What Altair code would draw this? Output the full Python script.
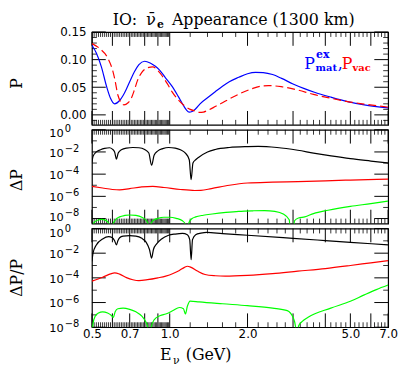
import altair as alt
import pandas as pd

# ---------------- values ----------------
# top panel: appearance probability P (matter, exact) and P (vacuum)
E_mat = [0.500, 0.520, 0.544, 0.570, 0.590, 0.612, 0.640, 0.660, 0.680, 0.700,
         0.730, 0.760, 0.800, 0.840, 0.880, 0.910, 0.960, 1.020, 1.080, 1.130,
         1.160, 1.190, 1.220, 1.260, 1.310, 1.400, 1.500, 1.600, 1.700, 1.850,
         2.000, 2.150, 2.300, 2.500, 2.710, 3.000, 3.300, 3.630, 4.210, 4.880,
         5.660, 7.000]
P_mat = [0.126, 0.112, 0.087, 0.051, 0.030, 0.020, 0.026, 0.035, 0.047, 0.060,
         0.078, 0.091, 0.097, 0.094, 0.088, 0.082, 0.068, 0.052, 0.033, 0.017,
         0.009, 0.005, 0.006, 0.011, 0.020, 0.031, 0.042, 0.052, 0.060, 0.068,
         0.0745, 0.077, 0.0765, 0.073, 0.066, 0.056, 0.048, 0.041, 0.032, 0.024,
         0.018, 0.0127]
E_vac = [0.500, 0.536, 0.577, 0.600, 0.612, 0.630, 0.645, 0.665, 0.690, 0.710,
         0.730, 0.750, 0.780, 0.810, 0.860, 0.900, 0.940, 0.980, 1.020, 1.070,
         1.130, 1.200, 1.260, 1.300, 1.350, 1.400, 1.500, 1.600, 1.750, 1.900,
         2.070, 2.250, 2.410, 2.700, 3.130, 3.600, 4.210, 4.880, 5.660, 7.000]
P_vac = [0.129, 0.120, 0.102, 0.082, 0.066, 0.036, 0.024, 0.018, 0.022, 0.030,
         0.045, 0.062, 0.077, 0.084, 0.087, 0.080, 0.069, 0.056, 0.042, 0.029,
         0.018, 0.010, 0.0066, 0.0045, 0.005, 0.008, 0.015, 0.022, 0.032, 0.040,
         0.047, 0.052, 0.053, 0.051, 0.045, 0.037, 0.030, 0.024, 0.0195, 0.014]

# middle panel: Delta P  (values given as log10)
E_dP_k = [0.500, 0.505, 0.520, 0.540, 0.560, 0.585, 0.600, 0.612, 0.622, 0.632,
          0.650, 0.680, 0.720, 0.760, 0.800, 0.830, 0.851, 0.870, 0.900, 0.940,
          0.990, 1.050, 1.100, 1.150, 1.190, 1.210, 1.230, 1.260, 1.300, 1.400,
          1.500, 1.700, 2.000, 2.200, 2.600, 3.130, 3.600, 4.210, 5.000, 6.000,
          7.000]
lg_dP_k = [-2.95, -2.4, -2.0, -1.8, -1.68, -1.62, -1.75, -2.0, -2.65, -2.1,
           -1.8, -1.65, -1.6, -1.62, -1.78, -2.1, -3.2, -2.3, -1.9, -1.7,
           -1.6, -1.65, -1.8, -2.1, -2.7, -4.5, -3.0, -2.7, -2.45, -2.0,
           -1.78, -1.6, -1.52, -1.5, -1.6, -1.85, -2.1, -2.35, -2.6, -2.82,
           -3.0]
E_dP_r = [0.50, 0.55, 0.60, 0.64, 0.70, 0.78, 0.86, 0.95, 1.10, 1.25,
          1.32, 1.45, 1.70, 2.00, 2.50, 3.13, 4.00, 5.00, 7.00]
lg_dP_r = [-5.1, -5.25, -5.38, -5.42, -5.3, -5.15, -5.1, -5.2, -5.38, -5.47,
           -5.46, -5.3, -5.0, -4.8, -4.72, -4.67, -4.6, -4.53, -4.44]
E_dP_g = [0.500, 0.504, 0.515, 0.530, 0.545, 0.560, 0.575, 0.588, 0.595, 0.602,
          0.615, 0.640, 0.670, 0.700, 0.740, 0.780, 0.810, 0.827, 0.834, 0.842,
          0.860, 0.900, 0.950, 1.000, 1.060, 1.120, 1.155, 1.170, 1.185, 1.220,
          1.260, 1.350, 1.460, 1.650, 1.850, 2.100, 2.330, 2.550, 2.750, 2.900,
          2.970, 3.040, 3.150, 3.330, 3.600, 4.100, 5.000, 6.000, 7.000]
lg_dP_g = [-12, -8.6, -8.25, -8.12, -8.08, -8.12, -8.3, -8.7, -12, -8.6,
           -8.15, -7.85, -7.72, -7.68, -7.72, -7.88, -8.15, -8.6, -12, -8.6,
           -8.2, -7.98, -7.88, -7.88, -7.98, -8.2, -8.6, -12, -8.4, -8.0,
           -7.85, -7.7, -7.59, -7.45, -7.35, -7.3, -7.28, -7.35, -7.6, -8.1,
           -12, -8.2, -7.95, -7.85, -7.55, -7.25, -6.9, -6.65, -6.42]

# bottom panel: Delta P / P-bar  (values given as log10)
E_rel_k = [0.500, 0.505, 0.520, 0.550, 0.580, 0.600, 0.612, 0.622, 0.630, 0.640,
           0.660, 0.700, 0.740, 0.780, 0.810, 0.835, 0.851, 0.865, 0.890, 0.930,
           0.990, 1.050, 1.120, 1.170, 1.195, 1.210, 1.225, 1.260, 1.320, 1.390,
           1.600, 2.000, 3.000, 4.000, 5.000, 7.000]
lg_rel_k = [-2.66, -2.0, -1.33, -0.85, -0.66, -0.75, -1.0, -1.33, -1.0, -0.75,
            -0.62, -0.58, -0.62, -0.8, -1.1, -1.7, -2.4, -1.7, -1.25, -0.85,
            -0.55, -0.45, -0.4, -0.5, -0.9, -2.53, -0.9, -0.5, -0.38, -0.32,
            -0.42, -0.55, -0.8, -0.98, -1.12, -1.33]
E_rel_r = [0.50, 0.55, 0.59, 0.612, 0.64, 0.68, 0.72, 0.76, 0.82, 0.90,
           0.965, 1.03, 1.09, 1.14, 1.17, 1.21, 1.28, 1.37, 1.50, 1.64,
           2.00, 2.50, 3.13, 4.00, 5.00, 6.00, 7.00]
lg_rel_r = [-4.26, -3.95, -3.68, -3.6, -3.7, -3.98, -4.15, -4.22, -4.15, -4.0,
            -3.86, -3.65, -3.4, -3.15, -3.06, -3.15, -3.45, -3.73, -3.83, -3.86,
            -3.8, -3.66, -3.46, -3.25, -3.0, -2.78, -2.6]
E_rel_g = [0.500, 0.504, 0.515, 0.530, 0.550, 0.575, 0.595, 0.605, 0.615, 0.630,
           0.660, 0.700, 0.740, 0.780, 0.805, 0.822, 0.835, 0.848, 0.870, 0.920,
           0.965, 1.030, 1.090, 1.130, 1.150, 1.170, 1.200, 1.300, 1.600, 2.000,
           2.500, 2.850, 3.000, 3.070, 3.110, 3.150, 3.250, 3.430, 4.200, 5.000,
           5.660, 6.300, 7.000]
lg_rel_g = [-12, -7.8, -7.1, -6.85, -6.75, -6.85, -7.05, -7.2, -6.75, -6.5,
            -6.45, -6.55, -6.75, -7.1, -7.5, -8.0, -12, -8.0, -7.4, -7.05,
            -6.93, -6.65, -6.4, -6.5, -6.93, -6.3, -5.88, -5.95, -6.1, -6.25,
            -6.45, -6.65, -7.2, -8.0, -12, -7.9, -7.55, -7.2, -6.45, -5.9,
            -5.38, -4.95, -4.58]

# tick marks / labels
x_major = [0.5, 0.6, 0.7, 0.8, 0.9, 1.0, 2.0, 3.0, 4.0, 5.0, 6.0, 7.0]
x_minor = ([round(0.5 + 0.01 * i, 2) for i in range(1, 50) if i % 10]
           + [1.2, 1.4, 1.6, 1.8]
           + [round(k + 0.2 * j, 1) for k in range(2, 7) for j in range(1, 5)])
x_labelled = [0.5, 0.7, 1.0, 2.0, 5.0, 7.0]
P_major = [0.0, 0.05, 0.10, 0.15]
P_minor = [-0.01] + [round(0.01 * i, 2) for i in range(1, 15) if i % 5]
log_major = [1.0, 1e-2, 1e-4, 1e-6, 1e-8]
log_minor = [1e-1, 1e-3, 1e-5, 1e-7]
log_inner = [1e-2, 1e-4, 1e-6]
sup_text = {0: "0", -2: "\u22122", -4: "\u22124", -6: "\u22126", -8: "\u22128"}

# ---------------- styling ----------------
SANS = "DejaVu Sans"
SERIF = "DejaVu Serif"
W = 300
H_TOP, H_MID, H_BOT = 94, 95, 100
MAJ, MIN = 14, 5
XS = alt.Scale(type="log", domain=[0.5, 7.0], nice=False)

x_expr = ("(" + " || ".join(f"datum.value == {v}" for v in x_labelled)
          + ") ? format(datum.value, '.1f') : ''")
sup_expr = "''"
for ex in sorted(sup_text):
    sup_expr = f"(datum.value > {10.0 ** ex * 0.5}) ? '{sup_text[ex]}' : ({sup_expr})"

LBL = dict(labelFont=SANS, labelFontSize=12, labelColor="black",
           labelFlush=False, labelOverlap=False)


def lab_axis(orient, values, **kw):
    d = dict(orient=orient, values=values, ticks=False, tickSize=0, domain=False,
             grid=False, title=None, labels=True, **LBL)
    d.update(kw)
    return alt.Axis(**d)


def tick_layers(ys, h, y_major, y_minor):
    out = []
    for vals, ln, sw in ((x_major, MAJ, 1.0), (x_minor, MIN, 0.8)):
        df = pd.DataFrame({"E": vals})
        for y0, y1 in ((0, ln), (h, h - ln)):
            out.append(alt.Chart(df).mark_rule(color="black", strokeWidth=sw).encode(
                x=alt.X("E:Q", scale=XS, axis=None),
                y=alt.value(y0), y2=alt.value(y1)))
    for vals, ln, sw in ((y_major, MAJ, 1.0), (y_minor, MIN, 0.8)):
        df = pd.DataFrame({"v": vals})
        for x0, x1 in ((0, ln), (W, W - ln)):
            out.append(alt.Chart(df).mark_rule(color="black", strokeWidth=sw).encode(
                y=alt.Y("v:Q", scale=ys, axis=None),
                x=alt.value(x0), x2=alt.value(x1)))
    return out


def label_layers(ys, yref, y_axes, x_labels):
    df = pd.DataFrame({"E": [0.5, 7.0], "v": [yref, yref]})
    out = []
    for i, ya in enumerate(y_axes):
        xa = None
        if i == 0 and x_labels:
            xa = lab_axis("bottom", x_major, labelExpr=x_expr, labelPadding=1)
        out.append(alt.Chart(df).mark_line(opacity=0).encode(
            x=alt.X("E:Q", scale=XS, axis=xa),
            y=alt.Y("v:Q", scale=ys, axis=ya)))
    return out


def curve(E, v, ys, color, dash=None):
    df = pd.DataFrame({"E": E, "v": v})
    kw = dict(color=color, strokeWidth=1.2, clip=True, interpolate="monotone")
    if dash:
        kw["strokeDash"] = dash
    return alt.Chart(df).mark_line(**kw).encode(
        x=alt.X("E:Q", scale=XS, axis=None),
        y=alt.Y("v:Q", scale=ys, axis=None))


def txt(t, x, y, size=16, color="black", font=SERIF, weight="normal",
        align="left", baseline="alphabetic", angle=None):
    kw = dict(text=t, fontSize=size, color=color, font=font, fontWeight=weight,
              align=align, baseline=baseline)
    if angle is not None:
        kw["angle"] = angle
    return alt.Chart(pd.DataFrame({"k": [0]})).mark_text(**kw).encode(
        x=alt.value(x), y=alt.value(y))


def pw(lst):
    return [10.0 ** e for e in lst]


def panel(layers, h):
    return (alt.layer(*layers)
            .resolve_scale(x="shared", y="shared")
            .resolve_axis(x="independent", y="independent")
            .properties(width=W, height=h))


def log_axes(d_top, d_bot):
    """'10' and superscript label axes; the edge labels get a small nudge."""
    axes = []
    for vals, d in ((log_inner, 0.0), ([1.0], d_top), ([1e-8], d_bot)):
        axes.append(lab_axis("left", vals, labelExpr="'10'", labelPadding=29,
                             labelOffset=1.5 + d, labelFontSize=11.5))
        axes.append(lab_axis("left", vals, labelExpr=sup_expr, labelAlign="left",
                             labelPadding=28, labelOffset=-3.5 + d,
                             labelFontSize=10))
    return axes


TX = -76  # x of the rotated y titles

# ---- top panel ----
ys_top = alt.Scale(domain=[-0.018, 0.15], nice=False, zero=False)
top_layers = tick_layers(ys_top, H_TOP, P_major, P_minor)
top_layers += label_layers(ys_top, 0.05,
                           [lab_axis("left", P_major, format=".2f", labelPadding=6)],
                           False)
top_layers += [
    curve(E_mat, P_mat, ys_top, "#0000ff"),
    curve(E_vac, P_vac, ys_top, "#ff0000", [8, 4]),
    txt("IO:", 21, -7.5),
    txt("\u03bd\u0304", 55, -7.5),
    txt("e", 66, -4, size=11, weight="bold"),
    txt("Appearance (1300 km)", 81, -7.5),
    txt("P", 215, 37, color="#0000ff"),
    txt("ex", 227, 26, size=11, color="#0000ff", weight="bold"),
    txt("mat", 226.5, 39, size=10, color="#0000ff", weight="bold"),
    txt(",", 249, 37, color="#0000ff"),
    txt("P", 253, 37, color="#ff0000"),
    txt("vac", 264, 39, size=10, color="#ff0000", weight="bold"),
    txt("P", TX, 52, align="center", baseline="middle", angle=270),
]
top = panel(top_layers, H_TOP)

# ---- middle panel ----
ys_mid = alt.Scale(type="log", domain=[10 ** -8.45, 1.0], nice=False)
mid_layers = tick_layers(ys_mid, H_MID, log_major, log_minor)
mid_layers += label_layers(ys_mid, 1e-4, log_axes(2.5, -3.0), False)
mid_layers += [
    curve(E_dP_k, pw(lg_dP_k), ys_mid, "black"),
    curve(E_dP_r, pw(lg_dP_r), ys_mid, "#ff0000"),
    curve(E_dP_g, pw(lg_dP_g), ys_mid, "#00ff00"),
    txt("\u0394P", TX, 51, align="center", baseline="middle", angle=270),
]
mid = panel(mid_layers, H_MID)

# ---- bottom panel ----
ys_bot = alt.Scale(type="log", domain=[1e-8, 1.0], nice=False)
bot_layers = tick_layers(ys_bot, H_BOT, log_major, log_minor)
bot_layers += label_layers(ys_bot, 1e-4, log_axes(4.0, 0.0), True)
bot_layers += [
    curve(E_rel_k, pw(lg_rel_k), ys_bot, "black"),
    curve(E_rel_r, pw(lg_rel_r), ys_bot, "#ff0000"),
    curve(E_rel_g, pw(lg_rel_g), ys_bot, "#00ff00"),
    txt("\u0394P/P\u0304", TX, 50, align="center", baseline="middle", angle=270),
    txt("E", 69, 133),
    txt("\u03bd", 82, 137, size=11),
    txt("(GeV)", 95, 133),
]
bot = panel(bot_layers, H_BOT)

chart = (alt.vconcat(top, mid, bot, spacing=5, bounds="flush")
         .properties(padding={"left": 0, "top": 0, "right": 0, "bottom": 0})
         .configure_view(stroke="black", strokeWidth=1.2))

chart.save("out.html", embed_options={"renderer": "svg", "actions": False})
